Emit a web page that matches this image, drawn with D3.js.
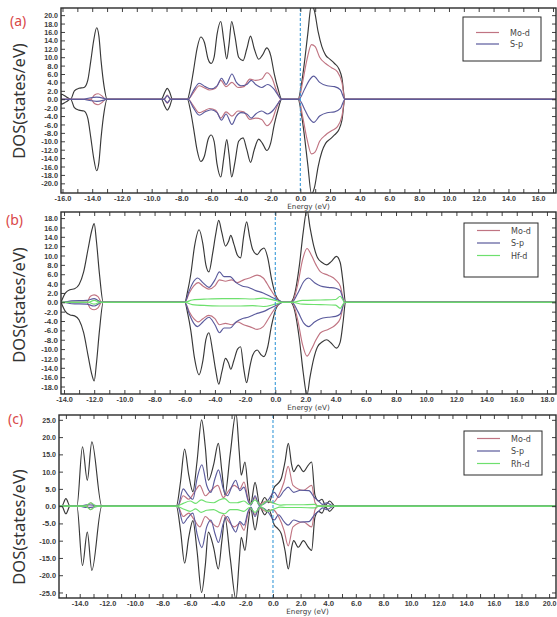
<!DOCTYPE html>
<html><head><meta charset="utf-8">
<script src="https://cdn.jsdelivr.net/npm/d3@7"></script>
<style>body{margin:0;background:#fff}</style>
</head><body><svg id="c" width="557" height="617"></svg>
<script>
// ---------------- DATA (points: [energy eV, spin-up DOS, spin-down DOS]) ----------------
const panelLabels = ["(a)", "(b)", "(c)"];
const legendA = ["Mo-d", "S-p"];
const legendB = ["Mo-d", "S-p", "Hf-d"];
const legendC = ["Mo-d", "S-p", "Rh-d"];
const xDomainA = [-16.1, 17.2], yDomainA = [-22.3, 21.7];
const xDomainB = [-14.2, 18.6], yDomainB = [-19.6, 19.3];
const xDomainC = [-15.5, 20.5], yDomainC = [-26.6, 26.4];
const yTicksA = d3.range(-20, 21, 2);
const yTicksB = d3.range(-18, 19, 2);
const yTicksC = d3.range(-25, 26, 5);

const totalA = [[-16.1,1.2,-1.2],[-15.75,0.6,-0.6],[-15.45,0,0],[-15.2,2.0,-2.0],[-14.9,2.6,-2.6],[-14.55,2.8,-2.8],[-14.3,4.5,-4.5],[-14.1,9,-9],[-13.9,14,-14],[-13.7,17,-17],[-13.55,15,-15],[-13.4,9,-9],[-13.2,3,-3],[-13.0,0,0],
 [-9.35,0,0],[-9.1,1.8,-1.8],[-8.95,2.6,-2.6],[-8.8,1.8,-1.8],[-8.6,0,0],
 [-7.6,0,0],[-7.4,2.5,-2.5],[-7.2,6.5,-6.5],[-6.95,12,-12],[-6.7,14.8,-14.8],[-6.45,13.5,-13.5],[-6.2,9.5,-9.5],[-6.0,8.5,-8.5],[-5.8,10,-10],[-5.6,15.5,-15.5],[-5.35,18.5,-18.5],[-5.15,14,-14],[-4.95,9.6,-9.6],[-4.8,13,-13],[-4.62,18.5,-18.5],[-4.4,15,-15],[-4.15,10,-10],[-3.85,9.2,-9.2],[-3.6,12,-12],[-3.35,15,-15],[-3.1,12,-12],[-2.8,9.5,-9.5],[-2.55,10.5,-10.5],[-2.25,12.2,-12.2],[-2.0,10.5,-10.5],[-1.75,6,-6],[-1.5,2.5,-2.5],[-1.25,0,0],
 [-0.15,0,0],[0.05,3,-3],[0.25,8,-8],[0.5,15.5,-15.5],[0.75,22.5,-22.5],[0.95,21,-21],[1.2,16,-16],[1.45,12.5,-12.5],[1.7,10.5,-10.5],[2.0,9.5,-9.5],[2.3,8.5,-8.5],[2.6,7.2,-7.2],[2.8,5,-5],[3.0,0,0]];
const modA = [[-14.1,0,0],[-13.85,1.0,-1.0],[-13.6,1.3,-1.3],[-13.35,0.8,-0.8],[-13.1,0,0],
 [-9.15,0,0],[-8.95,1.0,-1.0],[-8.75,0,0],
 [-7.55,0,0],[-7.2,1.5,-1.5],[-6.8,3.2,-3.2],[-6.5,2.8,-2.8],[-6.1,2.2,-2.2],[-5.7,2.6,-2.6],[-5.35,4.5,-4.5],[-5.0,3.0,-3.0],[-4.6,4.0,-4.0],[-4.2,2.8,-2.8],[-3.8,3.0,-3.0],[-3.4,4.8,-4.8],[-3.0,4.5,-4.5],[-2.6,4.8,-4.8],[-2.25,6.3,-6.3],[-1.9,5,-5],[-1.6,2,-2],[-1.3,0,0],
 [-0.1,0,0],[0.15,4,-4],[0.45,9.5,-9.5],[0.75,13,-13],[1.0,12.5,-12.5],[1.3,10,-10],[1.7,8.5,-8.5],[2.1,7.5,-7.5],[2.5,6.5,-6.5],[2.8,4,-4],[3.0,0,0]];
const spA = [[-14.6,0,0],[-14.2,0.3,-0.3],[-13.7,0.5,-0.5],[-13.2,0.2,-0.2],[-13.0,0,0],
 [-9.2,0,0],[-8.95,0.8,-0.8],[-8.7,0,0],
 [-7.55,0,0],[-7.2,2,-2],[-6.8,3.8,-3.8],[-6.4,3.0,-3.0],[-6.0,2.5,-2.5],[-5.6,3.2,-3.2],[-5.3,5,-5],[-5.0,3.5,-3.5],[-4.6,6,-6],[-4.3,4,-4],[-4.0,3.2,-3.2],[-3.6,3.5,-3.5],[-3.3,4.5,-4.5],[-3.0,3.5,-3.5],[-2.6,2.8,-2.8],[-2.2,3.5,-3.5],[-1.8,2.5,-2.5],[-1.5,1,-1],[-1.25,0,0],
 [-0.1,0,0],[0.3,2.5,-2.5],[0.6,4.5,-4.5],[0.9,5.5,-5.5],[1.3,4,-4],[1.8,3.2,-3.2],[2.3,3,-3],[2.7,2.2,-2.2],[3.0,0,0]];

const totalB = [[-14.2,0,0],[-13.9,2.0,-2.0],[-13.6,2.7,-2.7],[-13.3,2.9,-2.9],[-13.0,3.8,-3.8],[-12.7,6.5,-6.5],[-12.4,11.5,-11.5],[-12.15,15.5,-15.5],[-12.0,16.8,-16.8],[-11.85,13,-13],[-11.65,6,-6],[-11.4,0,0],
 [-6.0,0,0],[-5.8,2.5,-2.5],[-5.6,6,-6],[-5.35,12,-12],[-5.05,15.5,-15.5],[-4.8,12.5,-12.5],[-4.6,8,-8],[-4.4,6.5,-6.5],[-4.15,10.5,-10.5],[-3.95,14.5,-14.5],[-3.75,17.5,-17.5],[-3.55,15,-15],[-3.3,12,-12],[-3.1,13,-13],[-2.95,14.3,-14.3],[-2.75,12.5,-12.5],[-2.5,10,-10],[-2.3,9.5,-9.5],[-2.1,14,-14],[-1.9,17.2,-17.2],[-1.7,14,-14],[-1.5,11.3,-11.3],[-1.2,10.2,-10.2],[-0.95,11.2,-11.2],[-0.75,11.6,-11.6],[-0.5,9.5,-9.5],[-0.25,5,-5],[0.1,1,-1],[0.5,0,0],
 [1.0,0,0],[1.3,2,-2],[1.6,8,-8],[1.85,15,-15],[2.1,19.8,-19.8],[2.3,16,-16],[2.55,12,-12],[2.8,9.5,-9.5],[3.1,8.5,-8.5],[3.4,8,-8],[3.7,8.7,-8.7],[4.05,9.8,-9.8],[4.3,8.5,-8.5],[4.5,4,-4],[4.65,0,0]];
const modB = [[-12.5,0,0],[-12.25,1.3,-1.3],[-12.0,1.6,-1.6],[-11.75,1.2,-1.2],[-11.5,0,0],
 [-6.0,0,0],[-5.7,2,-2],[-5.4,3.5,-3.5],[-5.1,4.2,-4.2],[-4.8,3.5,-3.5],[-4.4,2.8,-2.8],[-4.0,3.5,-3.5],[-3.7,4.8,-4.8],[-3.3,4.5,-4.5],[-2.9,4.8,-4.8],[-2.5,4.2,-4.2],[-2.1,4.8,-4.8],[-1.7,5.2,-5.2],[-1.2,5.8,-5.8],[-0.8,5.2,-5.2],[-0.4,3.2,-3.2],[0.1,0.8,-0.8],[0.5,0,0],
 [1.1,0,0],[1.5,4,-4],[1.8,9,-9],[2.1,11.5,-11.5],[2.4,10,-10],[2.7,8,-8],[3.0,6.5,-6.5],[3.5,5.8,-5.8],[4.0,4.8,-4.8],[4.3,3.5,-3.5],[4.6,0,0]];
const spB = [[-14.1,0,0],[-13.5,0.3,-0.3],[-12.5,0.4,-0.4],[-12.0,0.8,-0.8],[-11.5,0,0],
 [-6.0,0,0],[-5.7,2.5,-2.5],[-5.4,4.5,-4.5],[-5.15,5.2,-5.2],[-4.8,4.2,-4.2],[-4.4,3.2,-3.2],[-4.0,4.8,-4.8],[-3.7,6.5,-6.5],[-3.4,5.5,-5.5],[-3.0,5.5,-5.5],[-2.6,4.2,-4.2],[-2.2,3.5,-3.5],[-1.8,3.2,-3.2],[-1.3,2.5,-2.5],[-0.8,2,-2],[-0.3,1.2,-1.2],[0.3,0.3,-0.3],[0.5,0,0],
 [1.1,0,0],[1.5,2,-2],[1.9,4.5,-4.5],[2.2,5.2,-5.2],[2.6,4.2,-4.2],[3.0,3.5,-3.5],[3.5,3.2,-3.2],[4.0,3.0,-3.0],[4.3,2.5,-2.5],[4.6,0,0]];
const hfB = [[-12.4,0,0],[-12.0,0.4,-0.4],[-11.6,0,0],
 [-6.0,0,0],[-5.5,0.5,-0.5],[-4.5,0.7,-0.7],[-3.5,0.8,-0.8],[-2.5,0.8,-0.8],[-1.5,0.7,-0.7],[-0.8,0.9,-0.9],[0,0.4,-0.4],[0.5,0,0],
 [1.1,0,0],[1.8,0.4,-0.4],[3.0,0.5,-0.5],[4.0,0.6,-0.6],[4.3,1.3,-1.3],[4.6,0,0]];

const totalC = [[-15.3,0,0],[-15.0,2.2,-2.2],[-14.7,0,0],
 [-14.2,0,0],[-13.8,17.2,-17.2],[-13.45,7.5,-7.5],[-13.12,18.6,-18.6],[-12.4,0,0],
 [-7.0,0,0],[-6.7,7,-7],[-6.4,16.5,-16.5],[-6.1,9,-9],[-5.8,4.2,-4.2],[-5.5,13,-13],[-5.17,25,-25],[-4.9,17,-17],[-4.68,7.5,-7.5],[-4.3,12,-12],[-3.96,18.2,-18.2],[-3.7,10,-10],[-3.48,3.2,-3.2],[-3.1,15,-15],[-2.68,27,-27],[-2.45,16,-16],[-2.3,9,-9],[-2.03,12.8,-12.8],[-1.8,5,-5],[-1.62,0.5,-0.5],[-1.3,6.9,-6.9],[-0.95,0.3,-0.3],[-0.6,2.5,-2.5],[-0.3,1.0,-1.0],[0.1,5.5,-5.5],[0.35,6.5,-6.5],[0.6,8,-8],[0.87,12.8,-12.8],[1.11,18.2,-18.2],[1.35,12,-12],[1.5,10,-10],[1.83,11.9,-11.9],[2.2,10,-10],[2.56,11.9,-11.9],[2.8,12.8,-12.8],[3.04,3.2,-3.2],[3.3,1.5,-1.5],[3.55,2.0,-2.0],[3.8,0.3,-0.3],[4.1,1.5,-1.5],[4.5,0,0]];
const modC = [[-13.5,0,0],[-13.2,1.0,-1.0],[-12.9,0,0],
 [-6.9,0,0],[-6.5,3,-3],[-6.1,2,-2],[-5.7,4,-4],[-5.3,6,-6],[-4.9,3,-3],[-4.5,4.5,-4.5],[-4.0,6,-6],[-3.6,2.5,-2.5],[-3.2,4.5,-4.5],[-2.8,6,-6],[-2.4,5,-5],[-2.1,7,-7],[-1.8,2,-2],[-1.6,0.5,-0.5],[-1.3,2.5,-2.5],[-1.0,0.5,-0.5],[-0.5,1.5,-1.5],[0,1,-1],[0.4,3,-3],[0.8,7,-7],[1.1,11.5,-11.5],[1.45,6,-6],[2.2,4.6,-4.6],[2.8,6,-6],[3.05,1,-1],[3.3,0,0]];
const spC = [[-14.0,0,0],[-13.5,0.4,-0.4],[-13.0,0.3,-0.3],[-12.6,0,0],
 [-6.9,0,0],[-6.5,5,-5],[-6.2,3.5,-3.5],[-5.8,2,-2],[-5.5,8,-8],[-5.15,12,-12],[-4.8,6,-6],[-4.5,4,-4],[-4.2,8,-8],[-3.95,10.5,-10.5],[-3.6,5,-5],[-3.3,3,-3],[-2.95,6,-6],[-2.7,7.5,-7.5],[-2.4,4.5,-4.5],[-2.1,5.5,-5.5],[-1.8,1.5,-1.5],[-1.6,0.3,-0.3],[-1.3,3,-3],[-1.0,0.2,-0.2],[-0.4,1.5,-1.5],[0.1,4,-4],[0.4,2.5,-2.5],[0.8,4.5,-4.5],[1.1,5.5,-5.5],[1.5,4.0,-4.0],[2.0,4.6,-4.6],[2.6,4.5,-4.5],[3.0,2.5,-2.5],[3.3,1.5,-1.5],[3.6,0.5,-0.5],[3.9,1,-1],[4.4,0,0]];
const rhC = [[-13.6,0,0],[-13.2,1.0,-1.0],[-12.8,0,0],
 [-7.0,0,0],[-6.5,0.8,-0.8],[-6.0,1.5,-1.5],[-5.6,0.8,-0.8],[-5.2,1.8,-1.8],[-4.8,1.2,-1.2],[-4.3,1.0,-1.0],[-3.9,1.8,-1.8],[-3.5,2.2,-2.2],[-3.1,1.0,-1.0],[-2.6,1.0,-1.0],[-2.1,1.5,-1.5],[-1.7,0.4,-0.4],[-1.3,1.8,-1.8],[-0.9,0.2,-0.2],[-0.4,1.5,-1.5],[0.1,0.8,-0.8],[0.5,0.3,-0.3],[1.0,0.4,-0.4],[2.0,0.4,-0.4],[3.0,0.5,-0.5],[3.3,0,0]];

// ---------------- STYLE / LAYOUT ----------------
const COL = {total: "#383838", mo: "#c07482", sp: "#5a5a9c", x: "#6ee06e", fermi: "#3a9ad9", frame: "#2b2b2b", label: "#d94848"};
const TICKFONT = "'Liberation Sans Narrow','Liberation Sans','DejaVu Sans Condensed',sans-serif";
const svg = d3.select("#c");

const panels = [
  {lab: panelLabels[0], box: {l: 61, r: 556, t: 8, b: 193}, xd: xDomainA, yd: yDomainA, yt: yTicksA,
   series: [[totalA, COL.total], [modA, COL.mo], [spA, COL.sp]], legend: legendA, legCols: [COL.mo, COL.sp],
   leg: {x: 463, y: 17, w: 78, h: 44}, labPos: [10, 26], titleY: 101, xlabBase: 208.5},
  {lab: panelLabels[1], box: {l: 61, r: 556, t: 212, b: 394}, xd: xDomainB, yd: yDomainB, yt: yTicksB,
   series: [[totalB, COL.total], [modB, COL.mo], [spB, COL.sp], [hfB, COL.x]], legend: legendB, legCols: [COL.mo, COL.sp, COL.x],
   leg: {x: 464, y: 223, w: 74, h: 54}, labPos: [6, 225], titleY: 305, xlabBase: 409.5},
  {lab: panelLabels[2], box: {l: 59, r: 556, t: 415, b: 598}, xd: xDomainC, yd: yDomainC, yt: yTicksC,
   series: [[totalC, COL.total], [modC, COL.mo], [spC, COL.sp], [rhC, COL.x]], legend: legendC, legCols: [COL.mo, COL.sp, COL.x],
   leg: {x: 464, y: 431, w: 78, h: 44}, labPos: [8, 424], titleY: 527, xlabBase: 614}
];

const fmt = d3.formatLocale({decimal: ".", thousands: ",", grouping: [3], currency: ["", ""], minus: "-"}).format(".1f");
const labelWidth = s => 3.0 * s.length + 1.8;

panels.forEach((p, i) => {
  const B = p.box;
  const x = d3.scaleLinear().domain(p.xd).range([B.l, B.r]);
  const y = d3.scaleLinear().domain(p.yd).range([B.b, B.t]);

  svg.append("clipPath").attr("id", "clip" + i).append("rect")
    .attr("x", B.l).attr("y", B.t).attr("width", B.r - B.l).attr("height", B.b - B.t);
  const g = svg.append("g").attr("clip-path", `url(#clip${i})`);

  p.series.forEach(([data, col]) => {
    const pts = [[p.xd[0], 0, 0], ...data, [p.xd[1], 0, 0]];
    [1, 2].forEach(k => {
      const line = d3.line().x(d => x(d[0])).y(d => y(d[k])).curve(d3.curveMonotoneX);
      g.append("path").datum(pts).attr("d", line).attr("fill", "none")
        .attr("stroke", col).attr("stroke-width", 1.15).attr("stroke-linejoin", "round");
    });
  });

  // Fermi level
  g.append("line").attr("x1", x(0)).attr("x2", x(0)).attr("y1", B.t).attr("y2", B.b)
    .attr("stroke", COL.fermi).attr("stroke-width", 1.1).attr("stroke-dasharray", "3,2");

  // axes
  const xt = d3.range(Math.ceil(p.xd[0]), Math.floor(p.xd[1]) + 1, 1);
  const xfmt = v => (v % 2 === 0 ? fmt(v) : "");
  const axB = svg.append("g").attr("transform", `translate(0,${B.b})`)
    .call(d3.axisBottom(x).tickValues(xt).tickFormat(xfmt).tickSize(-4).tickPadding(2));
  const axT = svg.append("g").attr("transform", `translate(0,${B.t})`)
    .call(d3.axisTop(x).tickValues(xt).tickFormat("").tickSize(-4));
  const axL = svg.append("g").attr("transform", `translate(${B.l},0)`)
    .call(d3.axisLeft(y).tickValues(p.yt).tickFormat(fmt).tickSize(-4).tickPadding(3));
  const axR = svg.append("g").attr("transform", `translate(${B.r},0)`)
    .call(d3.axisRight(y).tickValues(p.yt).tickFormat("").tickSize(-4));
  [axB, axT, axL, axR].forEach(a => {
    a.select(".domain").remove();
    a.selectAll(".tick line").attr("stroke", COL.frame).attr("stroke-width", 0.9);
    a.selectAll("text").attr("font-family", TICKFONT).attr("font-size", 8)
      .attr("font-weight", "bold").attr("fill", "#3a3a3a")
      .each(function() {
        const s = d3.select(this).text();
        if (s) d3.select(this).attr("textLength", labelWidth(s)).attr("lengthAdjust", "spacingAndGlyphs");
      });
  });

  svg.append("rect").attr("x", B.l).attr("y", B.t).attr("width", B.r - B.l).attr("height", B.b - B.t)
    .attr("fill", "none").attr("stroke", COL.frame).attr("stroke-width", 1.4);

  // x title
  svg.append("text").attr("x", (B.l + B.r) / 2).attr("y", p.xlabBase)
    .attr("text-anchor", "middle").attr("font-family", "'DejaVu Sans',sans-serif").attr("font-size", 7.2)
    .attr("fill", "#3a3a3a").text("Energy (eV)");

  // y title
  svg.append("text").attr("transform", `translate(25,${p.titleY}) rotate(-90)`)
    .attr("text-anchor", "middle").attr("font-family", "'Noto Sans',sans-serif").attr("font-size", 16.5)
    .attr("fill", "#333").text("DOS(states/eV)");

  // panel label
  svg.append("text").attr("x", p.labPos[0]).attr("y", p.labPos[1])
    .attr("font-family", "'Noto Sans',sans-serif").attr("font-size", 14).attr("fill", COL.label).text(p.lab);

  // legend
  const L = p.leg;
  svg.append("rect").attr("x", L.x).attr("y", L.y).attr("width", L.w).attr("height", L.h)
    .attr("fill", "#fff").attr("stroke", COL.frame).attr("stroke-width", 1);
  const n = p.legend.length;
  const step = n === 2 ? 11.5 : 12.5;
  const y0 = n === 2 ? L.y + 15.5 : L.y + 7.5;
  p.legend.forEach((name, j) => {
    const yy = y0 + j * step;
    svg.append("line").attr("x1", L.x + 13).attr("x2", L.x + 36).attr("y1", yy).attr("y2", yy)
      .attr("stroke", p.legCols[j]).attr("stroke-width", 1.2);
    svg.append("text").attr("x", L.x + 47).attr("y", yy + 3).attr("font-family", "'DejaVu Sans',sans-serif")
      .attr("font-size", 8).attr("fill", "#444").text(name);
  });
});
</script></body></html>
